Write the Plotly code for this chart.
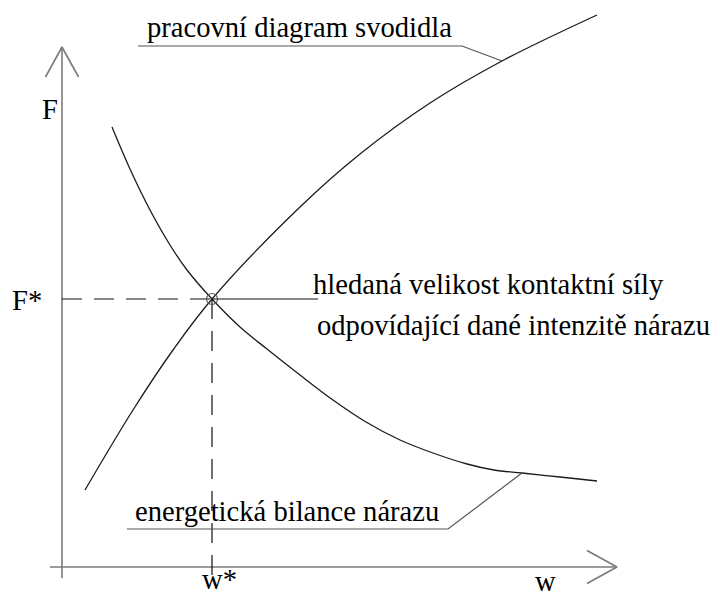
import plotly.graph_objects as go

# Working diagram of the guardrail: force F versus deflection w
w_work = [23, 71, 111, 150, 238, 298, 368, 440, 535]
F_work = [77, 157, 217, 268, 360, 413, 464, 506, 552]

# Energy balance of the impact
w_energy = [50, 68, 88, 108, 125, 150, 178, 205, 238, 271, 304, 338, 371, 405, 432, 460, 498, 535]
F_energy = [440, 398, 357, 322, 297, 268, 240, 218, 192, 167, 145, 127, 114, 103, 97, 94, 90, 86]

# Sought point (intersection)
w_star = 150
F_star = 268

# Axis extents
w_min, w_max = -12, 555
F_min, F_max = -11, 520
arrow_len, arrow_half = 30, 16.5

SERIF = "Liberation Serif"
FONT = dict(family=SERIF, size=28.6, color="black")
CURVE = dict(color="#1c1c1c", width=1.3)
AXIS = dict(color="#7a7a7a", width=1.6)
LEADER = dict(color="#555", width=1.2)

fig = go.Figure()

def seg(xs, ys, line, dash=None, shape="linear"):
    ln = dict(line)
    if dash:
        ln["dash"] = dash
    ln["shape"] = shape
    fig.add_trace(go.Scatter(x=xs, y=ys, mode="lines", line=ln,
                             hoverinfo="skip", showlegend=False))

# axes with open arrowheads
seg([0, 0], [F_min, F_max], AXIS)
seg([-arrow_half, 0, arrow_half], [F_max - arrow_len, F_max, F_max - arrow_len], AXIS)
seg([w_min, w_max], [0, 0], AXIS)
seg([w_max - arrow_len, w_max, w_max - arrow_len], [arrow_half, 0, -arrow_half], AXIS)

# curves
seg(w_work, F_work, CURVE, shape="spline")
seg(w_energy, F_energy, CURVE, shape="spline")

# guide lines to the intersection
seg([0, w_star], [F_star, F_star], dict(color="#111", width=1.2), dash="20px,12px")
seg([w_star, w_star], [F_star, -10], dict(color="#111", width=1.2), dash="20px,12px")
seg([w_star, 256], [F_star, F_star], dict(color="#111", width=1.2))

# intersection marker
fig.add_trace(go.Scatter(x=[w_star], y=[F_star], mode="markers",
                         marker=dict(symbol="circle-open", size=11,
                                     color="#555", line=dict(width=1.2)),
                         hoverinfo="skip", showlegend=False))

# leader lines for the curve labels
i_w = 7
seg([76, 400, w_work[i_w]], [521, 521, F_work[i_w]], LEADER)
i_e = 15
seg([65, 386, w_energy[i_e]], [38, 38, F_energy[i_e]], LEADER)

def label(text, x, y, xanchor="left", yanchor="middle"):
    fig.add_annotation(x=x, y=y, text=text, showarrow=False, font=FONT,
                       xanchor=xanchor, yanchor=yanchor, xref="x", yref="y")

label("pracovní diagram svodidla", 83, 540)
label("hledaná velikost kontaktní síly", 249, 283)
label("odpovídající dané intenzitě nárazu", 253, 242)
label("energetická bilance nárazu", 71, 56)
label("F", -12.5, 458, "center")
label("F*", -35, 267, "center")
label("w*", 157, -30, "center", "bottom")
label("w", 483, -14, "center")

fig.update_layout(
    width=720, height=597,
    margin=dict(l=0, r=0, t=0, b=0),
    font=dict(family=SERIF),
    paper_bgcolor="white", plot_bgcolor="white",
    xaxis=dict(range=[-62, 658], visible=False, fixedrange=True),
    yaxis=dict(range=[-30, 567], visible=False, fixedrange=True),
    showlegend=False,
)

fig.write_html("out.html")
